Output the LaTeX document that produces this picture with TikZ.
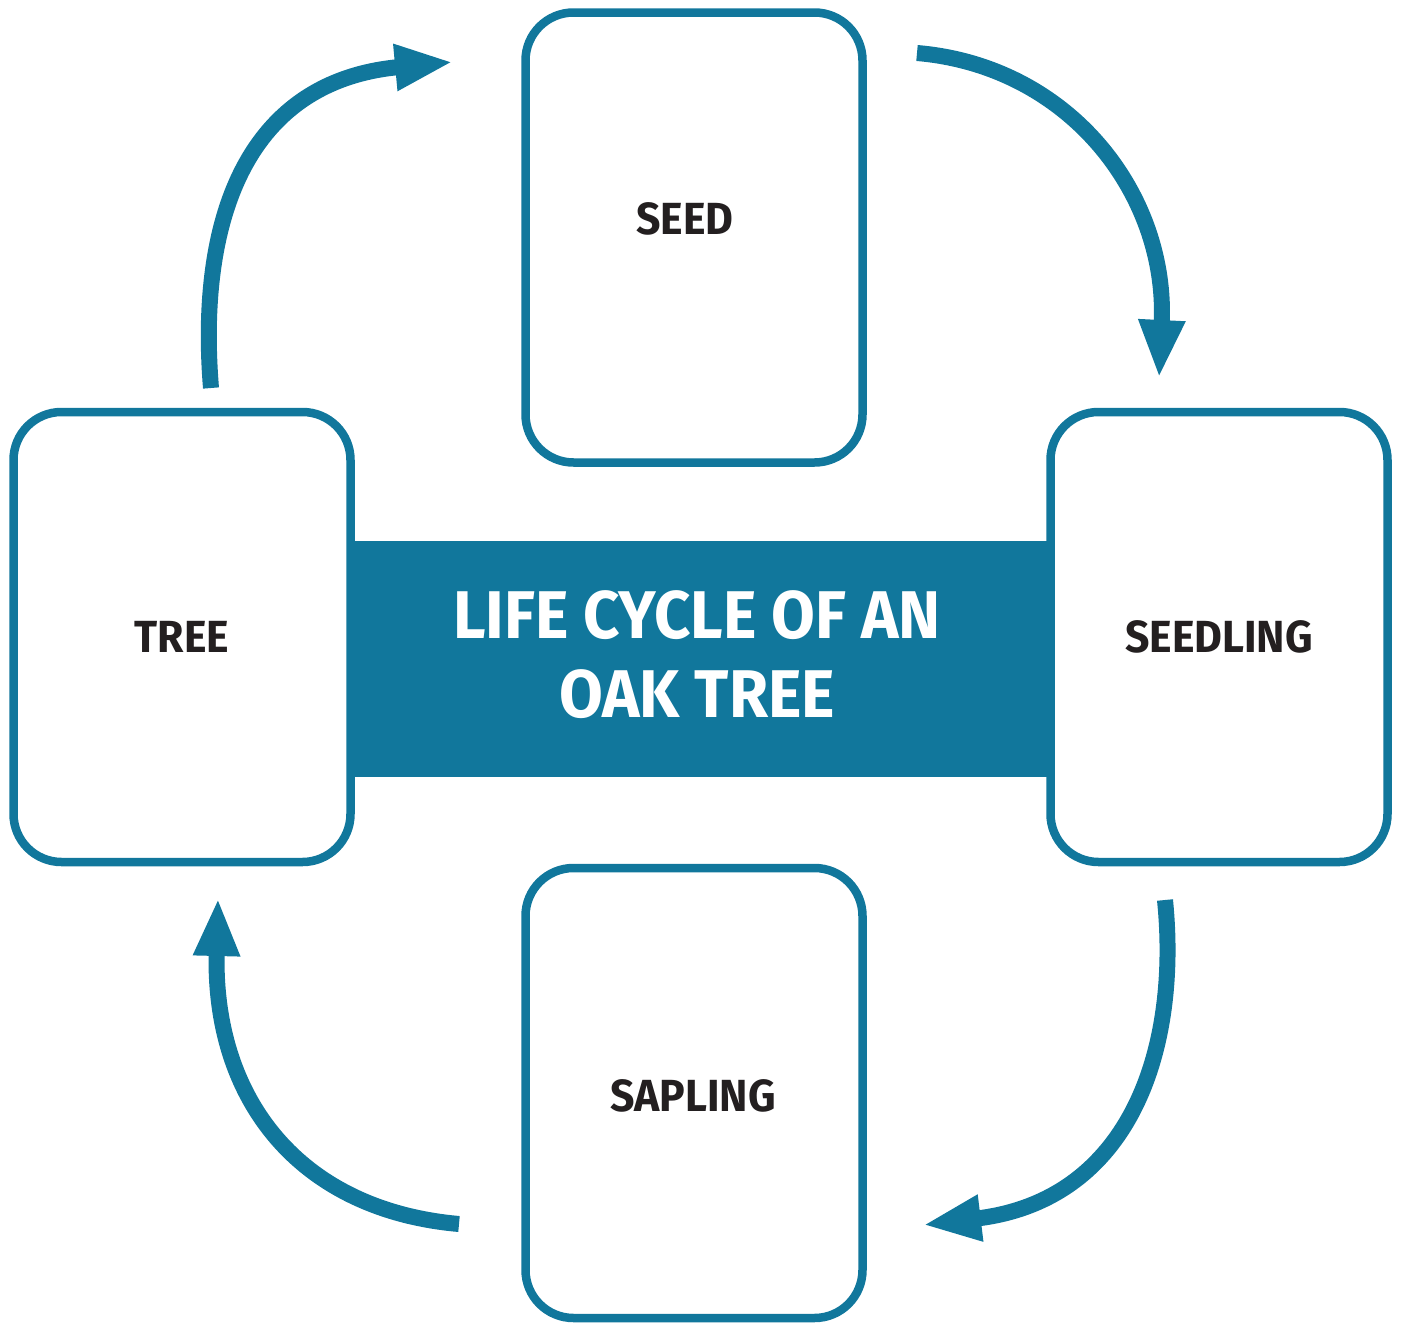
\documentclass[tikz,border=0pt]{standalone}
\usepackage{fontspec}
\setmainfont{Fira Sans}
\newfontfamily\labelfont[FakeStretch=0.95]{Fira Sans}
\newfontfamily\bannerfont[FakeStretch=0.94]{Fira Sans}
\usetikzlibrary{arrows.meta}
\definecolor{oakblue}{HTML}{11779C}
\definecolor{ink}{HTML}{231F20}
\begin{document}
\begin{tikzpicture}[x=1pt,y=-1pt,
  stagebox/.style={draw=oakblue, line width=8.5pt, fill=white, rounded corners=48pt,
    minimum width=337pt, minimum height=450pt, inner sep=0pt},
  stagetext/.style={text=ink, font=\labelfont\fontsize{45}{54}\selectfont\bfseries, anchor=base, inner sep=0pt},
  titletext/.style={text=white, font=\bannerfont\fontsize{67.5}{79}\selectfont\bfseries, anchor=base, inner sep=0pt},
  cyclearrow/.style={draw=oakblue, line width=16pt, -{Triangle[length=58pt,width=43pt]}}]
  \useasboundingbox (0,0) rectangle (1403,1325);

  % central banner
  \fill[oakblue] (353,541) rectangle (1047,777);
  \node[titletext] (title1) at (697,638) {LIFE CYCLE OF AN};
  \node[titletext] (title2) at (697,717) {OAK TREE};

  % the four stages
  \node[stagebox] (seed) at (694,237.5) {};
  \node[stagebox] (seedling) at (1219,637) {};
  \node[stagebox] (sapling) at (694,1093) {};
  \node[stagebox] (tree) at (182,637) {};

  \node[stagetext] (seedlabel) at (685,234) {SEED};
  \node[stagetext] (seedlinglabel) at (1219,652) {SEEDLING};
  \node[stagetext] (saplinglabel) at (693,1111) {SAPLING};
  \node[stagetext] (treelabel) at (182,652) {TREE};

  % arrow ends
  \coordinate (a1s) at (211,388);  \coordinate (a1e) at (453,62);
  \coordinate (a2s) at (917,53);   \coordinate (a2e) at (1159,378);
  \coordinate (a3s) at (1165,900); \coordinate (a3e) at (923,1225);
  \coordinate (a4s) at (459,1224); \coordinate (a4e) at (218,898);

  % cycle arrows
  \draw[cyclearrow] (a1s) .. controls (198,230) and (240,82) .. (a1e);
  \draw[cyclearrow] (a2s) .. controls (1070,66) and (1168,195) .. (a2e);
  \draw[cyclearrow] (a3s) .. controls (1180,1050) and (1130,1200) .. (a3e);
  \draw[cyclearrow] (a4s) .. controls (300,1210) and (213,1100) .. (a4e);
\end{tikzpicture}
\end{document}
